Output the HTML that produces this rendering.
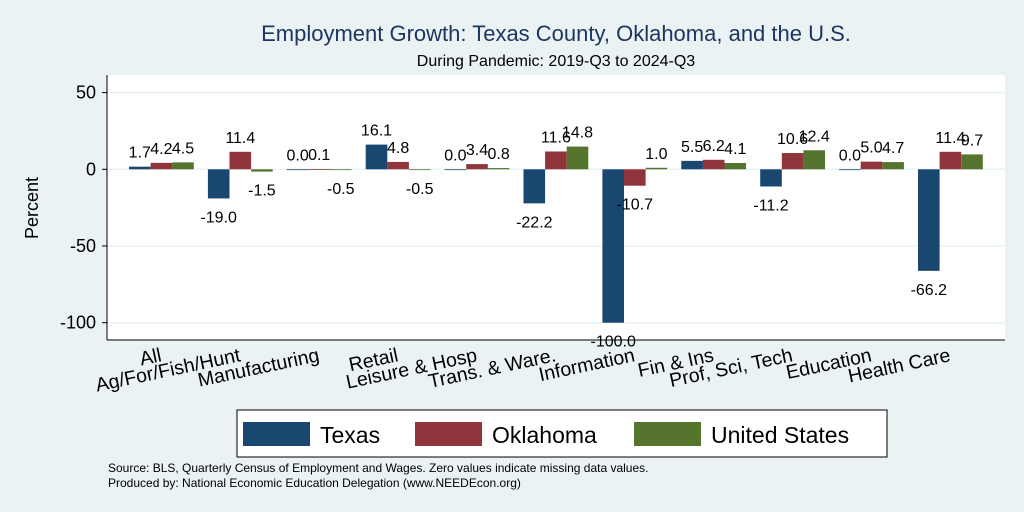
<!DOCTYPE html>
<html><head><meta charset="utf-8"><style>
body{margin:0;background:#eaf2f3;}
svg{display:block;font-family:"Liberation Sans",sans-serif;}
</style></head><body>
<svg id="chart" width="1024" height="512" viewBox="0 0 1024 512">
<rect x="0" y="0" width="1024" height="512" fill="#eaf2f3"/>
<text x="556" y="41" text-anchor="middle" font-size="22" fill="#1e3560">Employment Growth: Texas County, Oklahoma, and the U.S.</text>
<text x="556" y="66" text-anchor="middle" font-size="16" fill="#000">During Pandemic: 2019-Q3 to 2024-Q3</text>
<rect x="107" y="75" width="898" height="265" fill="#fff"/>
<g id="grid"></g>
<g id="bars"></g>
<g id="labels"></g>
<line x1="107" y1="75" x2="107" y2="340" stroke="#000" stroke-width="1"/>
<line x1="107" y1="340" x2="1005" y2="340" stroke="#000" stroke-width="1"/>
<g id="yticks"></g>
<g id="xticks"></g>
<text transform="translate(38,208) rotate(-90)" text-anchor="middle" font-size="18">Percent</text>
<rect x="237" y="410" width="650" height="47" fill="#fff" stroke="#000" stroke-width="1"/>
<g><rect x="243" y="422" width="67" height="24" fill="#1a476f"/><text x="320" y="443" font-size="23">Texas</text></g>
<g><rect x="415" y="422" width="67" height="24" fill="#90353b"/><text x="492" y="443" font-size="23">Oklahoma</text></g>
<g><rect x="634" y="422" width="67" height="24" fill="#55752f"/><text x="711" y="443" font-size="23">United States</text></g>
<text x="108" y="472" font-size="12">Source: BLS, Quarterly Census of Employment and Wages. Zero values indicate missing data values.</text>
<text x="108" y="487" font-size="12">Produced by: National Economic Education Delegation (www.NEEDEcon.org)</text>
</svg>
<script>
const categories=["All","Ag/For/Fish/Hunt","Manufacturing","Retail","Leisure & Hosp","Trans. & Ware.","Information","Fin & Ins","Prof, Sci, Tech","Education","Health Care"];
const texas=[1.7,-19.0,0.0,16.1,0.0,-22.2,-100.0,5.5,-11.2,0.0,-66.2];
const oklahoma=[4.2,11.4,0.1,4.8,3.4,11.6,-10.7,6.2,10.6,5.0,11.4];
const unitedStates=[4.5,-1.5,-0.5,-0.5,0.8,14.8,1.0,4.1,12.4,4.7,9.7];
const yTicks=[50,0,-50,-100];
const ns="http://www.w3.org/2000/svg";
const y=v=>169.3-v*(76.7/50);
const gx=i=>129+i*78.9;
const bw=21.6;
function mk(tag,attrs,parent,txt){const e=document.createElementNS(ns,tag);for(const k in attrs)e.setAttribute(k,attrs[k]);if(txt!==undefined)e.textContent=txt;parent.appendChild(e);return e;}
const grid=document.getElementById('grid'),bars=document.getElementById('bars'),labels=document.getElementById('labels'),yt=document.getElementById('yticks'),xt=document.getElementById('xticks');
yTicks.forEach(t=>{
 const l=mk('line',{x1:107,x2:1005,y1:y(t),y2:y(t),stroke:'#eaf2f3','stroke-width':1.5},grid);
 
 
 const tk=mk('line',{x1:102,x2:107,y1:y(t),y2:y(t),stroke:'#000'},yt);
 
 
 const tx=mk('text',{x:96,y:y(t)+6,'text-anchor':'end','font-size':18},yt,String(t));
 
 
});
const series=[[texas,'#1a476f','texas'],[oklahoma,'#90353b','oklahoma'],[unitedStates,'#55752f','us']];
categories.forEach((c,i)=>{
 series.forEach(([arr,col,nm],s)=>{
  const v=arr[i],x=gx(i)+s*bw;
  const top=Math.min(y(v),y(0)),h=Math.max(Math.abs(y(v)-y(0)),0.8);
  const r=mk('rect',{x:x,y:top,width:bw,height:h,fill:col},bars);
  
  
  const ly=v<0?y(v)+24:y(v)-9;
  const t=mk('text',{x:x+bw/2,y:ly,'text-anchor':'middle','font-size':16},labels,v.toFixed(1));
  
  
 });
 const cx=gx(i)+1.5*bw+1, by=361;
 const t=mk('text',{transform:`translate(${cx},${by}) rotate(-12)`,'text-anchor':'end','font-size':19.5},xt,c);
 
 
});
</script>
</body></html>
